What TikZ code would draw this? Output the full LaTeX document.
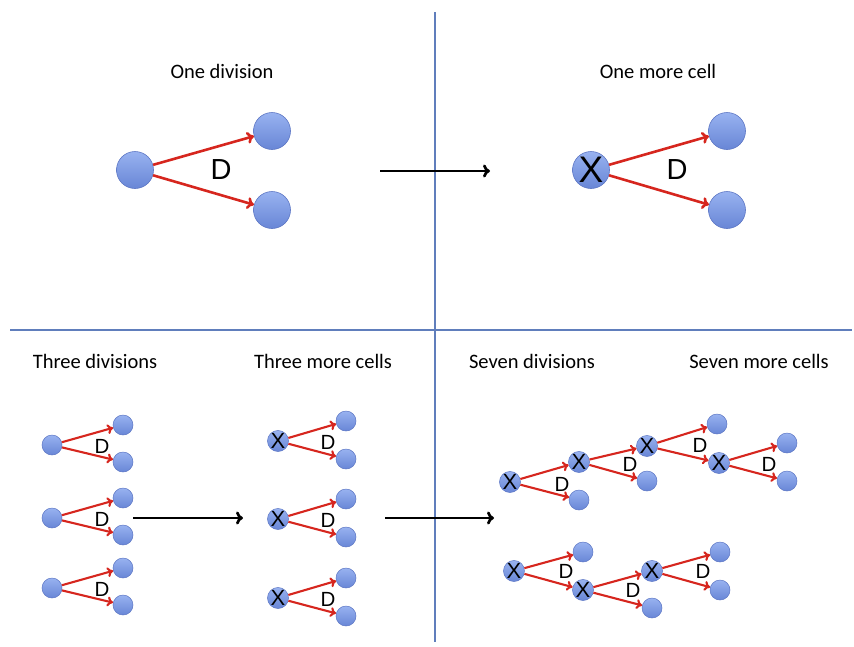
\documentclass[tikz,border=0pt]{standalone}
\usepackage{fontspec}
\setmainfont{Carlito}
\newfontfamily\arialf{Liberation Sans}
\usetikzlibrary{arrows.meta}
\definecolor{celltop}{RGB}{152,178,240}
\definecolor{cellbot}{RGB}{104,134,214}
\definecolor{celldraw}{RGB}{92,118,196}
\definecolor{divred}{RGB}{214,38,30}
\definecolor{gridblue}{RGB}{96,126,188}
\tikzset{
  x=1pt, y=-1pt,
  bigcell/.style={circle, inner sep=0pt, minimum size=37pt, top color=celltop, bottom color=cellbot, draw=celldraw, line width=0.6pt, font=\arialf\fontsize{37}{37}\selectfont},
  smallcell/.style={circle, inner sep=0pt, minimum size=20pt, top color=celltop, bottom color=cellbot, draw=celldraw, line width=0.5pt, font=\arialf\fontsize{22}{22}\selectfont},
  bigdiv/.style={draw=divred, line width=2.6pt, -{To[length=7pt,width=12pt]}},
  smalldiv/.style={draw=divred, line width=2.1pt, -{To[length=6pt,width=10pt]}},
  bigD/.style={font=\arialf\fontsize{29}{29}\selectfont, inner sep=0pt},
  smallD/.style={font=\arialf\fontsize{20.5}{20.5}\selectfont, inner sep=0pt},
  title/.style={font=\fontsize{20.5}{22}\selectfont, inner sep=0pt},
  flow/.style={draw=black, line width=2.7pt, -{To[length=7pt,width=13pt]}},
  gridline/.style={draw=gridblue, line width=2pt},
}
\begin{document}
\begin{tikzpicture}
\useasboundingbox (0,0) rectangle (854,646);
% grid lines
\coordinate (vt) at (435,12);
\coordinate (vb) at (435,642);
\coordinate (hl) at (10,330);
\coordinate (hr) at (852,330);
\draw[gridline] (vt) -- (vb);
\draw[gridline] (hl) -- (hr);

% titles
\node[title] (t1) at (222,71) {One division};
\node[title] (t2) at (658,71) {One more cell};
\node[title] (t3) at (95,361) {Three divisions};
\node[title] (t4) at (323,361) {Three more cells};
\node[title] (t5) at (532,361) {Seven divisions};
\node[title] (t6) at (759,361) {Seven more cells};

% top-left
\node[bigcell] (a0) at (135,170) {};
\node[bigcell] (a1) at (272,131) {};
\node[bigcell] (a2) at (272,210) {};
\draw[bigdiv] (a0) -- (a1);
\draw[bigdiv] (a0) -- (a2);
\node[bigD] (aD) at (221,170) {D};

% top arrow
\coordinate (f1s) at (380,171);
\coordinate (f1e) at (490,171);
\draw[flow] (f1s) -- (f1e);

% top-right
\node[bigcell] (b0) at (591,170) {X};
\node[bigcell] (b1) at (727,131) {};
\node[bigcell] (b2) at (727,210) {};
\draw[bigdiv] (b0) -- (b1);
\draw[bigdiv] (b0) -- (b2);
\node[bigD] (bD) at (677,170) {D};

% three divisions
\foreach \i/\y in {1/445, 2/518, 3/588}{
  \node[smallcell] (c\i p) at (52,\y) {};
  \node[smallcell] (c\i u) at (123,\y-20) {};
  \node[smallcell] (c\i d) at (123,\y+17) {};
  \draw[smalldiv] (c\i p) -- (c\i u);
  \draw[smalldiv] (c\i p) -- (c\i d);
  \node[smallD] (c\i D) at (102,\y+1) {D};
}
\coordinate (f2s) at (133,518);
\coordinate (f2e) at (243,518);
\draw[flow] (f2s) -- (f2e);

% three more cells
\foreach \i/\y in {1/441, 2/519, 3/598}{
  \node[smallcell] (e\i p) at (278,\y) {X};
  \node[smallcell] (e\i u) at (346,\y-20) {};
  \node[smallcell] (e\i d) at (346,\y+18) {};
  \draw[smalldiv] (e\i p) -- (e\i u);
  \draw[smalldiv] (e\i p) -- (e\i d);
  \node[smallD] (e\i D) at (328,\y+1) {D};
}
\coordinate (f3s) at (385,518);
\coordinate (f3e) at (494,518);
\draw[flow] (f3s) -- (f3e);

% seven divisions chain 1
\node[smallcell] (g1) at (510,482) {X};
\node[smallcell] (g2) at (579,462) {X};
\node[smallcell] (g2l) at (579,500) {};
\node[smallcell] (g3) at (647,446) {X};
\node[smallcell] (g3l) at (647,481) {};
\node[smallcell] (g4l) at (717,424) {};
\node[smallcell] (g4) at (719,463) {X};
\node[smallcell] (g5u) at (787,443) {};
\node[smallcell] (g5d) at (787,481) {};
\draw[smalldiv] (g1) -- (g2);
\draw[smalldiv] (g1) -- (g2l);
\draw[smalldiv] (g2) -- (g3);
\draw[smalldiv] (g2) -- (g3l);
\draw[smalldiv] (g3) -- (g4l);
\draw[smalldiv] (g3) -- (g4);
\draw[smalldiv] (g4) -- (g5u);
\draw[smalldiv] (g4) -- (g5d);
\node[smallD] (gD1) at (562,484) {D};
\node[smallD] (gD2) at (630,464) {D};
\node[smallD] (gD3) at (700,445) {D};
\node[smallD] (gD4) at (769,464) {D};

% chain 2
\node[smallcell] (h1) at (514,571) {X};
\node[smallcell] (h2l) at (583,552) {};
\node[smallcell] (h2) at (583,590) {X};
\node[smallcell] (h3) at (652,571) {X};
\node[smallcell] (h3l) at (652,608) {};
\node[smallcell] (h4u) at (720,552) {};
\node[smallcell] (h4d) at (720,590) {};
\draw[smalldiv] (h1) -- (h2l);
\draw[smalldiv] (h1) -- (h2);
\draw[smalldiv] (h2) -- (h3);
\draw[smalldiv] (h2) -- (h3l);
\draw[smalldiv] (h3) -- (h4u);
\draw[smalldiv] (h3) -- (h4d);
\node[smallD] (hD1) at (566,571) {D};
\node[smallD] (hD2) at (633,590) {D};
\node[smallD] (hD3) at (703,571) {D};
\end{tikzpicture}
\end{document}
